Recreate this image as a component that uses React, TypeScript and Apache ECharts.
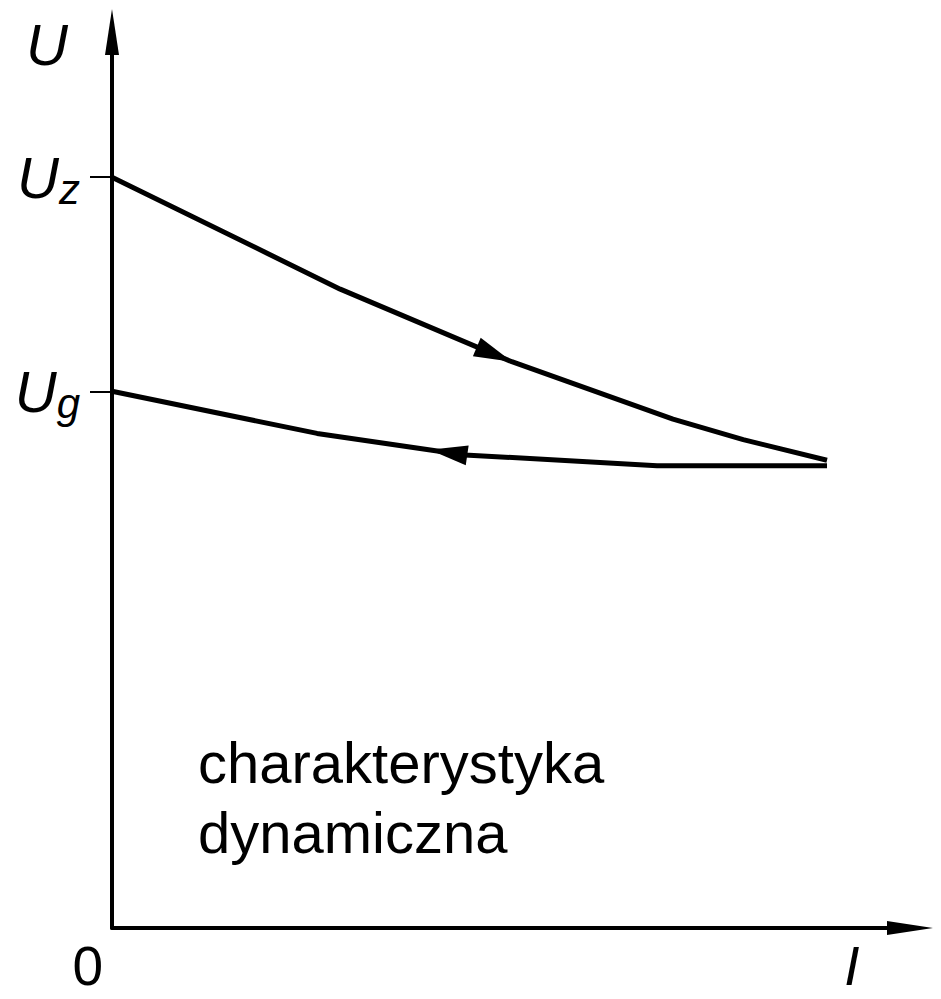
import React, { useEffect, useRef } from "react";
import * as echarts from "echarts";

// Characteristic values (arbitrary units, I: 0..100, U: 0..100)
const U_Z = 83.8;
const U_G = 59.9;
const upperCurve: number[][] = [
  [0, 83.8],
  [28.6, 71.3],
  [50.1, 63.2],
  [70.3, 56.8],
  [79.1, 54.5],
  [89.6, 52.2],
];
const lowerCurve: number[][] = [
  [0, 59.9],
  [25.7, 55.2],
  [44.2, 52.8],
  [68.3, 51.6],
  [89.6, 51.6],
];
// arrow heads: [tipI, tipU, fromI, fromU]
const arrowHeads: number[][] = [
  [50.1, 63.2, 28.6, 71.3],
  [39.8, 53.37, 44.2, 52.8],
];
const yTickValues = [U_G, U_Z];
const yTickNames = ["g", "z"];
const xTickValues = [0];
const captionLines = ["charakterystyka", "dynamiczna"];

const FONT = "Liberation Sans";

export default function App() {
  const ref = useRef<HTMLDivElement>(null);
  useEffect(() => {
    if (!ref.current) return;
    const chart = echarts.init(ref.current, undefined, { renderer: "svg" });
    const axisLineStyle = { color: "#000", width: 4 };
    chart.setOption({
      animation: false,
      grid: { left: 112, right: 31, top: 32, bottom: 71, outerBoundsMode: "none" },
      xAxis: {
        type: "value",
        min: 0,
        max: 100,
        splitLine: { show: false },
        axisLine: {
          show: true,
          lineStyle: axisLineStyle,
          symbol: ["none", "triangle"],
          symbolSize: [14, 46],
        },
        axisTick: { show: false },
        axisLabel: {
          customValues: xTickValues,
          formatter: () => "0",
          fontFamily: FONT,
          fontSize: 55,
          lineHeight: 46,
          color: "#000",
          align: "right",
          padding: [0, 9, 0, 0],
          margin: 15,
        },
        name: "I",
        nameLocation: "end",
        nameGap: -58,
        nameTextStyle: {
          fontFamily: FONT,
          fontSize: 55,
          lineHeight: 46,
          fontStyle: "italic",
          color: "#000",
          align: "center",
          verticalAlign: "top",
          padding: [15, 0, 0, 0],
        },
      },
      yAxis: {
        type: "value",
        min: 0,
        max: 100,
        splitLine: { show: false },
        axisLine: {
          show: true,
          lineStyle: axisLineStyle,
          symbol: ["none", "triangle"],
          symbolSize: [14, 46],
        },
        axisTick: {
          show: true,
          customValues: yTickValues,
          length: 22,
          lineStyle: { color: "#000", width: 2 },
        },
        axisLabel: {
          customValues: yTickValues,
          margin: 32,
          formatter: (v: number) => {
            const i = yTickValues.findIndex((t) => Math.abs(t - v) < 0.01);
            return "{u|U}{s|" + (i >= 0 ? yTickNames[i] : "") + "}";
          },
          rich: {
            u: {
              fontFamily: FONT,
              fontSize: 58,
              fontStyle: "italic",
              color: "#000",
              lineHeight: 66,
            },
            s: {
              fontFamily: FONT,
              fontSize: 42,
              fontStyle: "italic",
              color: "#000",
              lineHeight: 34,
              verticalAlign: "bottom",
            },
          },
        },
        name: "U",
        nameLocation: "end",
        nameGap: -12,
        nameTextStyle: {
          fontFamily: FONT,
          fontSize: 58,
          fontStyle: "italic",
          color: "#000",
          align: "right",
          verticalAlign: "middle",
          padding: [0, 44, 0, 0],
        },
      },
      graphic: [
        {
          type: "text",
          left: 198,
          top: 727,
          style: {
            text: captionLines.join("\n"),
            fontFamily: FONT,
            fontSize: 58,
            lineHeight: 70,
            fill: "#000",
          },
        },
      ],
      series: [
        {
          type: "line",
          data: upperCurve,
          symbol: "none",
          lineStyle: { color: "#000", width: 5 },
          silent: true,
        },
        {
          type: "line",
          data: lowerCurve,
          symbol: "none",
          lineStyle: { color: "#000", width: 5 },
          silent: true,
        },
        {
          type: "custom",
          data: arrowHeads,
          encode: { x: [0, 2], y: [1, 3] },
          silent: true,
          renderItem: (_params: any, api: any) => {
            const tip = api.coord([api.value(0), api.value(1)]);
            const from = api.coord([api.value(2), api.value(3)]);
            const dx = tip[0] - from[0];
            const dy = tip[1] - from[1];
            const len = Math.hypot(dx, dy) || 1;
            const ux = dx / len;
            const uy = dy / len;
            const L = 38;
            const W = 10;
            const bx = tip[0] - ux * L;
            const by = tip[1] - uy * L;
            return {
              type: "polygon",
              shape: {
                points: [
                  tip,
                  [bx - uy * W, by + ux * W],
                  [bx + uy * W, by - ux * W],
                ],
              },
              style: { fill: "#000" },
            };
          },
        },
      ],
    });
    return () => chart.dispose();
  }, []);
  return (
    <div
      ref={ref}
      style={{ position: "fixed", left: 0, top: 0, width: 941, height: 999, background: "#fff" }}
    />
  );
}
